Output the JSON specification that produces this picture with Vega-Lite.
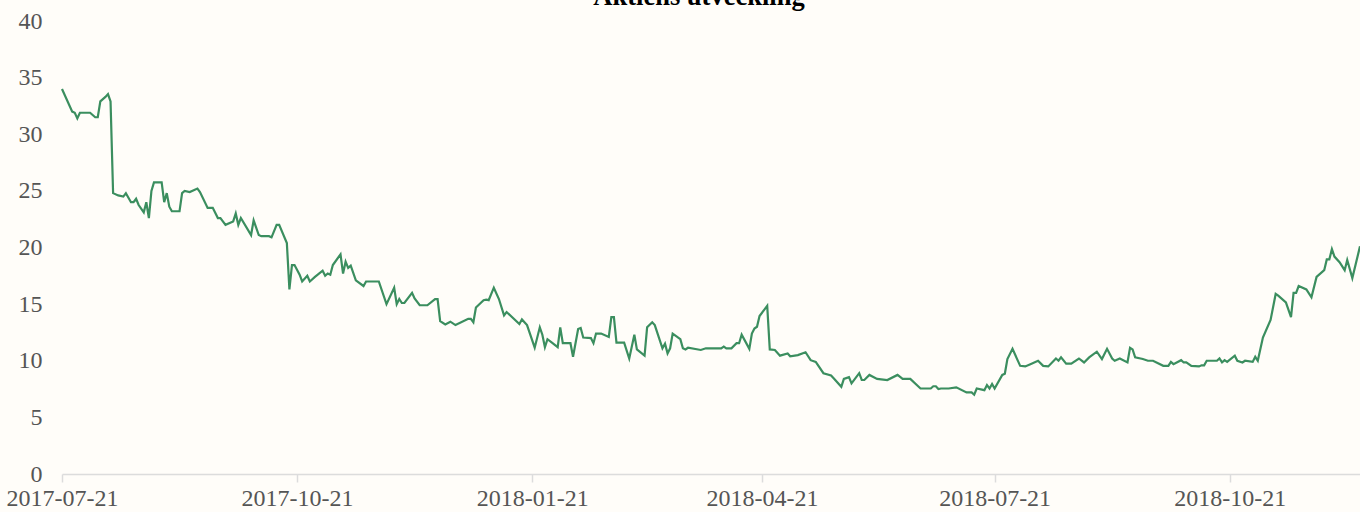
{
  "$schema": "https://vega.github.io/schema/vega-lite/v6.json",
  "autosize": {"type": "none"},
  "width": 1298,
  "height": 453,
  "padding": {"left": 62, "top": 21, "right": 0, "bottom": 38},
  "background": "#fffdf9",
  "title": {"text": "Aktiens utveckling", "font": "Liberation Serif", "fontSize": 26.5, "fontWeight": "bold", "color": "#000000", "baseline": "alphabetic", "offset": 0, "dx": -12, "dy": 22},
  "config": {"view": {"stroke": null}},
  "data": {"values": [
    {"date": "2017-07-21", "value": 34.0},
    {"date": "2017-07-25", "value": 32.0},
    {"date": "2017-07-26", "value": 31.9},
    {"date": "2017-07-27", "value": 31.4},
    {"date": "2017-07-28", "value": 31.9},
    {"date": "2017-08-01", "value": 31.9},
    {"date": "2017-08-03", "value": 31.5},
    {"date": "2017-08-04", "value": 31.5},
    {"date": "2017-08-05", "value": 32.9},
    {"date": "2017-08-07", "value": 33.3},
    {"date": "2017-08-08", "value": 33.55},
    {"date": "2017-08-09", "value": 32.9},
    {"date": "2017-08-10", "value": 24.8},
    {"date": "2017-08-12", "value": 24.6},
    {"date": "2017-08-14", "value": 24.5},
    {"date": "2017-08-15", "value": 24.8},
    {"date": "2017-08-17", "value": 24.0},
    {"date": "2017-08-18", "value": 24.0},
    {"date": "2017-08-19", "value": 24.3},
    {"date": "2017-08-20", "value": 23.75},
    {"date": "2017-08-22", "value": 23.1},
    {"date": "2017-08-23", "value": 24.0},
    {"date": "2017-08-24", "value": 22.6},
    {"date": "2017-08-25", "value": 25.0},
    {"date": "2017-08-26", "value": 25.75},
    {"date": "2017-08-29", "value": 25.75},
    {"date": "2017-08-30", "value": 24.0},
    {"date": "2017-08-31", "value": 24.8},
    {"date": "2017-09-01", "value": 23.6},
    {"date": "2017-09-02", "value": 23.2},
    {"date": "2017-09-05", "value": 23.2},
    {"date": "2017-09-06", "value": 24.8},
    {"date": "2017-09-07", "value": 25.0},
    {"date": "2017-09-09", "value": 24.9},
    {"date": "2017-09-12", "value": 25.2},
    {"date": "2017-09-13", "value": 24.9},
    {"date": "2017-09-16", "value": 23.5},
    {"date": "2017-09-18", "value": 23.5},
    {"date": "2017-09-20", "value": 22.6},
    {"date": "2017-09-21", "value": 22.6},
    {"date": "2017-09-23", "value": 22.0},
    {"date": "2017-09-26", "value": 22.3},
    {"date": "2017-09-27", "value": 23.0},
    {"date": "2017-09-28", "value": 22.0},
    {"date": "2017-09-29", "value": 22.6},
    {"date": "2017-10-03", "value": 21.1},
    {"date": "2017-10-04", "value": 22.4},
    {"date": "2017-10-06", "value": 21.1},
    {"date": "2017-10-07", "value": 21.0},
    {"date": "2017-10-10", "value": 21.0},
    {"date": "2017-10-11", "value": 20.9},
    {"date": "2017-10-13", "value": 22.0},
    {"date": "2017-10-14", "value": 22.0},
    {"date": "2017-10-17", "value": 20.4},
    {"date": "2017-10-18", "value": 16.3},
    {"date": "2017-10-19", "value": 18.45},
    {"date": "2017-10-20", "value": 18.45},
    {"date": "2017-10-22", "value": 17.6},
    {"date": "2017-10-23", "value": 17.0},
    {"date": "2017-10-25", "value": 17.5},
    {"date": "2017-10-26", "value": 17.0},
    {"date": "2017-10-28", "value": 17.4},
    {"date": "2017-10-31", "value": 17.95},
    {"date": "2017-11-01", "value": 17.5},
    {"date": "2017-11-02", "value": 17.7},
    {"date": "2017-11-03", "value": 17.6},
    {"date": "2017-11-04", "value": 18.45},
    {"date": "2017-11-07", "value": 19.4},
    {"date": "2017-11-08", "value": 17.7},
    {"date": "2017-11-09", "value": 18.75},
    {"date": "2017-11-10", "value": 18.2},
    {"date": "2017-11-11", "value": 18.4},
    {"date": "2017-11-13", "value": 17.1},
    {"date": "2017-11-16", "value": 16.6},
    {"date": "2017-11-17", "value": 17.0},
    {"date": "2017-11-22", "value": 17.0},
    {"date": "2017-11-25", "value": 15.0},
    {"date": "2017-11-28", "value": 16.45},
    {"date": "2017-11-29", "value": 15.0},
    {"date": "2017-11-30", "value": 15.45},
    {"date": "2017-12-01", "value": 15.1},
    {"date": "2017-12-02", "value": 15.1},
    {"date": "2017-12-05", "value": 16.0},
    {"date": "2017-12-06", "value": 15.5},
    {"date": "2017-12-08", "value": 14.9},
    {"date": "2017-12-11", "value": 14.9},
    {"date": "2017-12-14", "value": 15.45},
    {"date": "2017-12-15", "value": 15.45},
    {"date": "2017-12-16", "value": 13.5},
    {"date": "2017-12-18", "value": 13.2},
    {"date": "2017-12-20", "value": 13.45},
    {"date": "2017-12-22", "value": 13.15},
    {"date": "2017-12-27", "value": 13.7},
    {"date": "2017-12-28", "value": 13.7},
    {"date": "2017-12-29", "value": 13.4},
    {"date": "2017-12-30", "value": 14.7},
    {"date": "2018-01-02", "value": 15.35},
    {"date": "2018-01-03", "value": 15.4},
    {"date": "2018-01-04", "value": 15.35},
    {"date": "2018-01-06", "value": 16.45},
    {"date": "2018-01-08", "value": 15.45},
    {"date": "2018-01-10", "value": 14.0},
    {"date": "2018-01-11", "value": 14.3},
    {"date": "2018-01-16", "value": 13.25},
    {"date": "2018-01-17", "value": 13.65},
    {"date": "2018-01-19", "value": 13.15},
    {"date": "2018-01-22", "value": 11.15},
    {"date": "2018-01-24", "value": 12.95},
    {"date": "2018-01-25", "value": 12.3},
    {"date": "2018-01-26", "value": 11.2},
    {"date": "2018-01-27", "value": 11.9},
    {"date": "2018-01-29", "value": 11.55},
    {"date": "2018-01-31", "value": 11.2},
    {"date": "2018-02-01", "value": 12.95},
    {"date": "2018-02-02", "value": 11.55},
    {"date": "2018-02-05", "value": 11.55},
    {"date": "2018-02-06", "value": 10.35},
    {"date": "2018-02-08", "value": 12.8},
    {"date": "2018-02-09", "value": 12.9},
    {"date": "2018-02-10", "value": 12.05},
    {"date": "2018-02-13", "value": 12.0},
    {"date": "2018-02-14", "value": 11.55},
    {"date": "2018-02-15", "value": 12.4},
    {"date": "2018-02-17", "value": 12.4},
    {"date": "2018-02-20", "value": 12.1},
    {"date": "2018-02-21", "value": 13.85},
    {"date": "2018-02-22", "value": 13.85},
    {"date": "2018-02-23", "value": 11.6},
    {"date": "2018-02-26", "value": 11.6},
    {"date": "2018-02-28", "value": 10.2},
    {"date": "2018-03-02", "value": 12.3},
    {"date": "2018-03-03", "value": 11.0},
    {"date": "2018-03-06", "value": 10.45},
    {"date": "2018-03-07", "value": 12.95},
    {"date": "2018-03-09", "value": 13.4},
    {"date": "2018-03-10", "value": 13.15},
    {"date": "2018-03-13", "value": 11.1},
    {"date": "2018-03-14", "value": 11.5},
    {"date": "2018-03-15", "value": 10.65},
    {"date": "2018-03-16", "value": 11.1},
    {"date": "2018-03-17", "value": 12.4},
    {"date": "2018-03-20", "value": 11.9},
    {"date": "2018-03-21", "value": 11.1},
    {"date": "2018-03-22", "value": 11.0},
    {"date": "2018-03-23", "value": 11.15},
    {"date": "2018-03-28", "value": 10.95},
    {"date": "2018-03-30", "value": 11.1},
    {"date": "2018-04-05", "value": 11.1},
    {"date": "2018-04-06", "value": 11.25},
    {"date": "2018-04-07", "value": 11.1},
    {"date": "2018-04-09", "value": 11.1},
    {"date": "2018-04-11", "value": 11.55},
    {"date": "2018-04-12", "value": 11.55},
    {"date": "2018-04-13", "value": 12.3},
    {"date": "2018-04-16", "value": 11.05},
    {"date": "2018-04-17", "value": 12.4},
    {"date": "2018-04-18", "value": 12.85},
    {"date": "2018-04-19", "value": 13.0},
    {"date": "2018-04-20", "value": 13.95},
    {"date": "2018-04-23", "value": 14.85},
    {"date": "2018-04-24", "value": 11.0},
    {"date": "2018-04-26", "value": 10.95},
    {"date": "2018-04-28", "value": 10.45},
    {"date": "2018-05-01", "value": 10.65},
    {"date": "2018-05-02", "value": 10.4},
    {"date": "2018-05-05", "value": 10.5},
    {"date": "2018-05-08", "value": 10.75},
    {"date": "2018-05-10", "value": 10.05},
    {"date": "2018-05-12", "value": 9.9},
    {"date": "2018-05-15", "value": 8.9},
    {"date": "2018-05-18", "value": 8.7},
    {"date": "2018-05-19", "value": 8.45},
    {"date": "2018-05-22", "value": 7.7},
    {"date": "2018-05-23", "value": 8.4},
    {"date": "2018-05-25", "value": 8.55},
    {"date": "2018-05-26", "value": 8.0},
    {"date": "2018-05-29", "value": 8.9},
    {"date": "2018-05-30", "value": 8.3},
    {"date": "2018-05-31", "value": 8.3},
    {"date": "2018-06-02", "value": 8.75},
    {"date": "2018-06-05", "value": 8.4},
    {"date": "2018-06-09", "value": 8.3},
    {"date": "2018-06-13", "value": 8.75},
    {"date": "2018-06-15", "value": 8.4},
    {"date": "2018-06-18", "value": 8.4},
    {"date": "2018-06-22", "value": 7.55},
    {"date": "2018-06-26", "value": 7.55},
    {"date": "2018-06-27", "value": 7.75},
    {"date": "2018-06-28", "value": 7.75},
    {"date": "2018-06-29", "value": 7.5},
    {"date": "2018-06-30", "value": 7.55},
    {"date": "2018-07-03", "value": 7.55},
    {"date": "2018-07-06", "value": 7.65},
    {"date": "2018-07-10", "value": 7.2},
    {"date": "2018-07-12", "value": 7.2},
    {"date": "2018-07-13", "value": 7.0},
    {"date": "2018-07-14", "value": 7.55},
    {"date": "2018-07-17", "value": 7.4},
    {"date": "2018-07-18", "value": 7.85},
    {"date": "2018-07-19", "value": 7.55},
    {"date": "2018-07-20", "value": 7.95},
    {"date": "2018-07-21", "value": 7.55},
    {"date": "2018-07-24", "value": 8.75},
    {"date": "2018-07-25", "value": 8.85},
    {"date": "2018-07-26", "value": 10.15},
    {"date": "2018-07-28", "value": 11.05},
    {"date": "2018-07-31", "value": 9.55},
    {"date": "2018-08-02", "value": 9.5},
    {"date": "2018-08-04", "value": 9.7},
    {"date": "2018-08-07", "value": 10.0},
    {"date": "2018-08-09", "value": 9.55},
    {"date": "2018-08-11", "value": 9.5},
    {"date": "2018-08-14", "value": 10.2},
    {"date": "2018-08-15", "value": 10.0},
    {"date": "2018-08-16", "value": 10.3},
    {"date": "2018-08-18", "value": 9.75},
    {"date": "2018-08-20", "value": 9.75},
    {"date": "2018-08-23", "value": 10.2},
    {"date": "2018-08-25", "value": 9.85},
    {"date": "2018-08-27", "value": 10.3},
    {"date": "2018-08-30", "value": 10.8},
    {"date": "2018-09-01", "value": 10.15},
    {"date": "2018-09-03", "value": 11.05},
    {"date": "2018-09-05", "value": 10.2},
    {"date": "2018-09-06", "value": 10.0},
    {"date": "2018-09-08", "value": 10.2},
    {"date": "2018-09-11", "value": 9.85},
    {"date": "2018-09-12", "value": 11.15},
    {"date": "2018-09-13", "value": 11.0},
    {"date": "2018-09-14", "value": 10.3},
    {"date": "2018-09-17", "value": 10.15},
    {"date": "2018-09-19", "value": 10.0},
    {"date": "2018-09-21", "value": 10.0},
    {"date": "2018-09-25", "value": 9.55},
    {"date": "2018-09-27", "value": 9.55},
    {"date": "2018-09-28", "value": 9.9},
    {"date": "2018-09-29", "value": 9.7},
    {"date": "2018-10-02", "value": 10.05},
    {"date": "2018-10-03", "value": 9.85},
    {"date": "2018-10-04", "value": 9.85},
    {"date": "2018-10-06", "value": 9.55},
    {"date": "2018-10-09", "value": 9.5},
    {"date": "2018-10-10", "value": 9.6},
    {"date": "2018-10-11", "value": 9.6},
    {"date": "2018-10-12", "value": 10.0},
    {"date": "2018-10-16", "value": 10.0},
    {"date": "2018-10-17", "value": 10.2},
    {"date": "2018-10-18", "value": 9.85},
    {"date": "2018-10-19", "value": 10.05},
    {"date": "2018-10-20", "value": 9.9},
    {"date": "2018-10-23", "value": 10.45},
    {"date": "2018-10-24", "value": 10.0},
    {"date": "2018-10-26", "value": 9.85},
    {"date": "2018-10-27", "value": 10.0},
    {"date": "2018-10-30", "value": 9.9},
    {"date": "2018-10-31", "value": 10.35},
    {"date": "2018-11-01", "value": 10.0},
    {"date": "2018-11-03", "value": 12.05},
    {"date": "2018-11-06", "value": 13.6},
    {"date": "2018-11-08", "value": 15.9},
    {"date": "2018-11-09", "value": 15.75},
    {"date": "2018-11-12", "value": 15.15},
    {"date": "2018-11-14", "value": 13.85},
    {"date": "2018-11-15", "value": 16.0},
    {"date": "2018-11-16", "value": 16.0},
    {"date": "2018-11-17", "value": 16.6},
    {"date": "2018-11-20", "value": 16.3},
    {"date": "2018-11-22", "value": 15.6},
    {"date": "2018-11-24", "value": 17.4},
    {"date": "2018-11-27", "value": 18.0},
    {"date": "2018-11-28", "value": 18.95},
    {"date": "2018-11-29", "value": 18.95},
    {"date": "2018-11-30", "value": 19.85},
    {"date": "2018-12-01", "value": 19.2},
    {"date": "2018-12-03", "value": 18.7},
    {"date": "2018-12-05", "value": 18.0},
    {"date": "2018-12-06", "value": 18.9},
    {"date": "2018-12-08", "value": 17.3},
    {"date": "2018-12-11", "value": 20.1}
  ]},
  "mark": {"type": "line", "color": "#3b8e5f", "strokeWidth": 2.2, "interpolate": "linear"},
  "encoding": {
    "x": {
      "field": "date", "type": "temporal",
      "scale": {"type": "utc", "domain": [{"year": 2017, "month": 7, "date": 21, "utc": true}, {"year": 2018, "month": 12, "date": 11, "utc": true}]},
      "axis": {
        "title": null,
        "values": [
          {"year": 2017, "month": 7, "date": 21, "utc": true},
          {"year": 2017, "month": 10, "date": 21, "utc": true},
          {"year": 2018, "month": 1, "date": 21, "utc": true},
          {"year": 2018, "month": 4, "date": 21, "utc": true},
          {"year": 2018, "month": 7, "date": 21, "utc": true},
          {"year": 2018, "month": 10, "date": 21, "utc": true}
        ],
        "format": "%Y-%m-%d",
        "grid": false,
        "domainColor": "#dcdcdc",
        "domainWidth": 1.5,
        "tickColor": "#dcdcdc",
        "tickWidth": 1.5,
        "tickSize": 8,
        "labelPadding": 4,
        "labelFlush": false,
        "labelOverlap": false,
        "labelFont": "Liberation Serif",
        "labelFontSize": 24,
        "labelColor": "#555555"
      }
    },
    "y": {
      "field": "value", "type": "quantitative",
      "scale": {"domain": [0, 40], "nice": false, "zero": true},
      "axis": {
        "title": null,
        "values": [0, 5, 10, 15, 20, 25, 30, 35, 40],
        "grid": false,
        "domain": false,
        "ticks": false,
        "labelPadding": 20,
        "labelFont": "Liberation Serif",
        "labelFontSize": 24,
        "labelColor": "#555555"
      }
    }
  }
}
